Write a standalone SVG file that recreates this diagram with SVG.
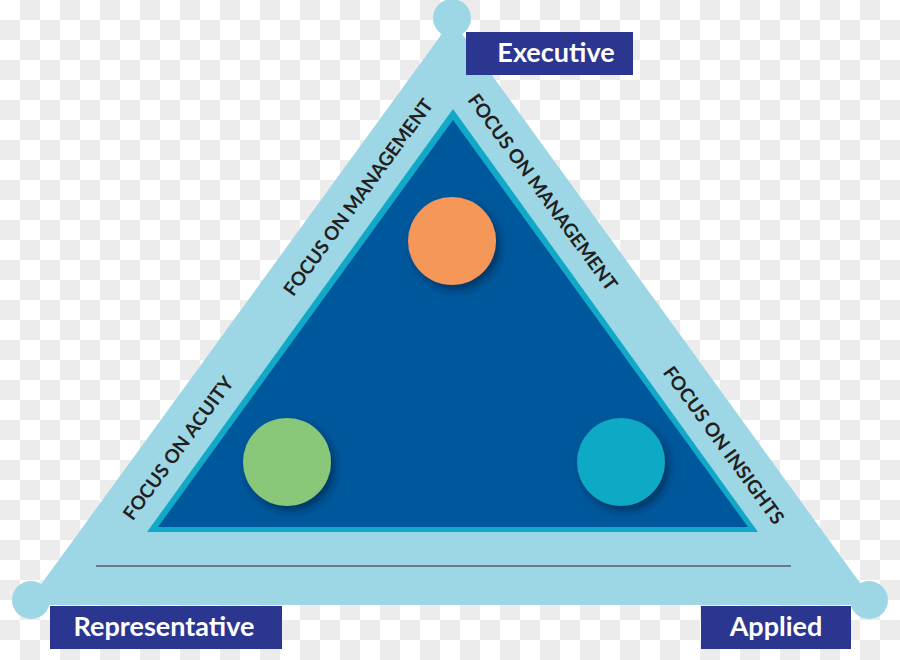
<svg xmlns="http://www.w3.org/2000/svg" width="900" height="660" viewBox="0 0 900 660">
  <defs>
    <pattern id="checker" x="0" y="0" width="40" height="40" patternUnits="userSpaceOnUse">
      <rect x="0" y="0" width="40" height="40" fill="#ffffff"/>
      <rect x="20" y="0" width="20" height="20" fill="#ececec"/>
      <rect x="0" y="20" width="20" height="20" fill="#ececec"/>
    </pattern>
    <filter id="shadow" x="-30%" y="-30%" width="170%" height="170%">
      <feDropShadow dx="4" dy="5" stdDeviation="4" flood-color="#001a3a" flood-opacity="0.6"/>
    </filter>
    <style>
      .band { fill: #9dd7e5; }
      .label-box { fill: #2a368f; }
      .label-text { font-family: "Lato", "Open Sans", "Liberation Sans", sans-serif; font-weight: 700; font-size: 27px; fill: #ffffff; text-anchor: middle; }
      .edge-text { font-family: "Lato", "Open Sans", "Liberation Sans", sans-serif; font-weight: 700; font-size: 19px; fill: #231f20; text-anchor: middle; }
    </style>
  </defs>

  <rect x="0" y="0" width="900" height="660" fill="url(#checker)"/>

  <g id="outer-triangle">
    <polygon class="band" points="452,20 26,605 876,605"/>
    <circle class="band" cx="452" cy="18" r="19"/>
    <circle class="band" cx="31" cy="600" r="19"/>
    <circle class="band" cx="869" cy="600" r="19"/>
  </g>

  <g id="baseline">
    <line x1="96" y1="566" x2="791" y2="566" stroke="#6b7a86" stroke-width="2"/>
  </g>

  <g id="inner-triangle">
    <polygon points="453,109 147,532 758,532" fill="#12a9c9"/>
    <polygon points="453,120 158,527 748,527" fill="#00589c"/>
  </g>

  <g id="edge-labels">
    <text class="edge-text" transform="translate(358,197) rotate(-53.8)" y="7" textLength="238" lengthAdjust="spacing">FOCUS ON MANAGEMENT</text>
    <text class="edge-text" transform="translate(543,192) rotate(53.8)" y="7" textLength="238" lengthAdjust="spacing">FOCUS ON MANAGEMENT</text>
    <text class="edge-text" transform="translate(178,448) rotate(-53.8)" y="7" textLength="172" lengthAdjust="spacing">FOCUS ON ACUITY</text>
    <text class="edge-text" transform="translate(724,445) rotate(53.8)" y="7" textLength="190" lengthAdjust="spacing">FOCUS ON INSIGHTS</text>
  </g>

  <g id="node-orange">
    <circle cx="452" cy="241" r="44" fill="#f6975a" filter="url(#shadow)"/>
  </g>
  <g id="node-green">
    <circle cx="287" cy="462" r="44" fill="#88c878" filter="url(#shadow)"/>
  </g>
  <g id="node-teal">
    <circle cx="621" cy="462" r="44" fill="#0fa9c5" filter="url(#shadow)"/>
  </g>

  <g id="label-executive">
    <rect class="label-box" x="466" y="32" width="167" height="43"/>
    <text class="label-text" x="556" y="62">Executive</text>
  </g>
  <g id="label-representative">
    <rect class="label-box" x="50" y="606" width="232" height="43"/>
    <text class="label-text" x="164" y="636">Representative</text>
  </g>
  <g id="label-applied">
    <rect class="label-box" x="701" y="606" width="150" height="43"/>
    <text class="label-text" x="776" y="636">Applied</text>
  </g>
</svg>
